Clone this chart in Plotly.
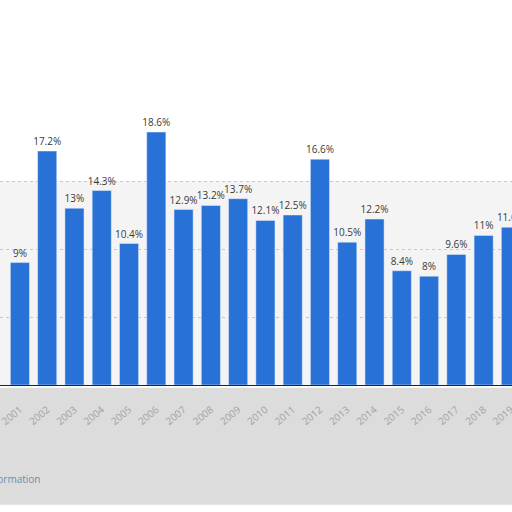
import plotly.graph_objects as go

years = list(range(2001, 2020))
values = [9, 17.2, 13, 14.3, 10.4, 18.6, 12.9, 13.2, 13.7, 12.1, 12.5, 16.6,
          10.5, 12.2, 8.4, 8, 9.6, 11, 11.6]
labels = [f"{v:g}%" for v in values]

fig = go.Figure()
fig.add_trace(go.Bar(
    x=years, y=values, text=labels, textposition="outside",
    textfont=dict(size=10, color="#3a3a3a", family="Open Sans"),
    marker_color="#2871d6", width=0.7, cliponaxis=False,
))

# soft grey background bands like the reference
fig.add_shape(type="rect", xref="paper", yref="paper", x0=0, x1=1, y0=-0.44, y1=-0.01,
              fillcolor="#dcdcdc", line_width=0, layer="below")
fig.add_shape(type="rect", xref="paper", yref="paper", x0=0, x1=1, y0=0, y1=0.75,
              fillcolor="#f4f4f4", line_width=0, layer="below")

fig.add_annotation(text="Additional Information", xref="paper", yref="paper",
                   x=0.082, y=-0.377, xanchor="right", showarrow=False,
                   font=dict(size=10, color="#6a8db0", family="Open Sans"))

fig.update_layout(
    width=512, height=512,
    margin=dict(l=0, r=0, t=113, b=127, autoexpand=False),
    paper_bgcolor="white", plot_bgcolor="rgba(0,0,0,0)",
    showlegend=False,
    uniformtext=dict(minsize=10, mode="show"),
    xaxis=dict(range=[2000.27, 2019.04], tickvals=years, ticktext=[str(y) for y in years],
               tickangle=-40, tickfont=dict(size=10, color="#a2a2a2", family="Open Sans"),
               ticklabelstandoff=14, ticklabeloverflow="allow",
               showline=True, linecolor="#222", linewidth=1, showgrid=False, ticks="",
               automargin=False),
    yaxis=dict(range=[0, 20], dtick=5, showticklabels=False, zeroline=False,
               gridcolor="#c8c8c8", griddash="dot", gridwidth=1, automargin=False),
)

# drop the default page margin so the figure sits at the window's corner
fig.write_html("out.html", config={"displayModeBar": False},
               post_script="document.body.style.margin='0';document.body.style.overflow='hidden';")
